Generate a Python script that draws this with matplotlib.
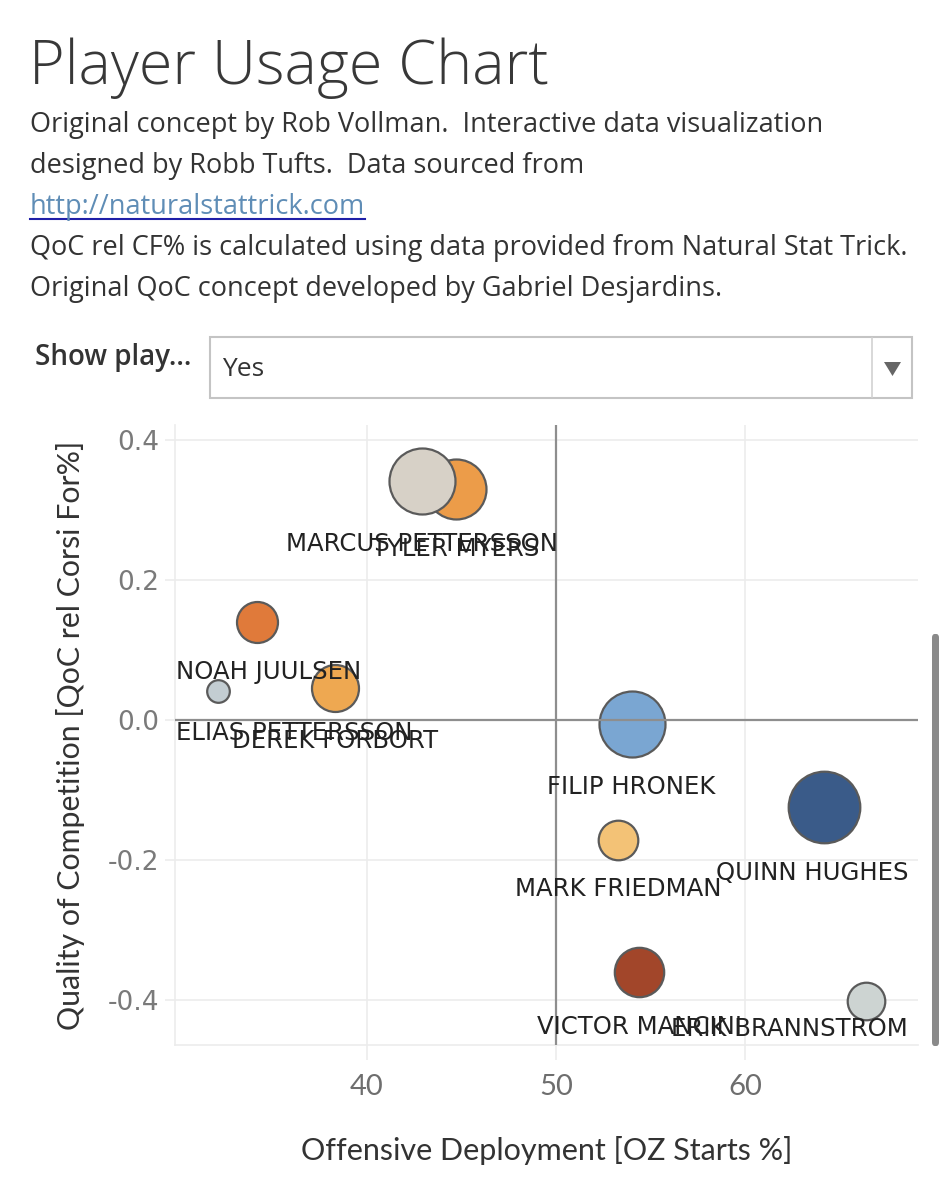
import matplotlib
matplotlib.use("Agg")
import matplotlib.pyplot as plt
from matplotlib.patches import Rectangle, FancyBboxPatch, Polygon
from matplotlib.lines import Line2D

# ---------------- data ----------------
players = ["MARCUS PETTERSSON", "TYLER MYERS", "NOAH JUULSEN", "ELIAS PETTERSSON",
           "DEREK FORBORT", "FILIP HRONEK", "MARK FRIEDMAN", "QUINN HUGHES",
           "VICTOR MANCINI", "ERIK BRANNSTROM"]
oz_starts = [42.9, 44.7, 34.2, 32.1, 38.3, 54.0, 53.3, 64.2, 54.4, 66.4]
qoc_rel_cf = [0.341, 0.330, 0.140, 0.041, 0.046, -0.006, -0.171, -0.124, -0.360, -0.401]
toi = [1089, 900, 420, 128, 552, 1089, 392, 1282, 610, 353]
colors = ["#d7d1c7", "#ec9c49", "#e07a3a", "#c3cdd2", "#eea851", "#7aa6d2",
          "#f3c276", "#3a5b89", "#a2462a", "#cdd4d2"]
draw_order = [1, 0, 2, 3, 4, 5, 6, 7, 8, 9]

x_ticks = [40, 50, 60]
x_tick_labels = ["40", "50", "60"]
y_ticks = [0.4, 0.2, 0.0, -0.2, -0.4]
y_tick_labels = ["0.4", "0.2", "0.0", "-0.2", "-0.4"]

title = "Player Usage Chart"
subtitle_lines = ["Original concept by Rob Vollman.  Interactive data visualization",
                  "designed by Robb Tufts.  Data sourced from"]
link_text = "http://naturalstattrick.com"
note_lines = ["QoC rel CF% is calculated using data provided from Natural Stat Trick.",
              "Original QoC concept developed by Gabriel Desjardins."]
filter_label = "Show play..."
filter_value = "Yes"
x_label = "Offensive Deployment [OZ Starts %]"
y_label = "Quality of Competition [QoC rel Corsi For%]"

# ---------------- figure ----------------
W, H = 947, 1200
fig = plt.figure(figsize=(W / 100, H / 100), dpi=100)
fig.patch.set_facecolor("white")

def fx(px):
    return px / W

def fy(py):
    return 1 - py / H

HEAD = ["Open Sans", "Lato", "DejaVu Sans"]
NARROW = ["Lato", "Open Sans", "DejaVu Sans"]
LAB = ["DejaVu Sans"]
TXT = "#333333"

fig.text(fx(29), fy(84), title, family=HEAD, weight="light", fontsize=44,
         color="#383838", va="baseline")
base_y = 132
for i, line in enumerate(subtitle_lines):
    fig.text(fx(30), fy(base_y + 41 * i), line, family=HEAD, fontsize=19.5,
             color=TXT, va="baseline")
link = fig.text(fx(30), fy(base_y + 41 * 2), link_text, family=HEAD, fontsize=19.5,
                color="#5f8db6", va="baseline")
for i, line in enumerate(note_lines):
    fig.text(fx(30), fy(base_y + 41 * (3 + i)), line, family=HEAD, fontsize=19.5,
             color=TXT, va="baseline")

# filter widget
fig.text(fx(35), fy(358), filter_label, family=HEAD, weight="semibold",
         fontsize=20, color=TXT, va="center")
fig.patches.append(Rectangle((fx(210), fy(398)), fx(702), 61 / H,
                             transform=fig.transFigure, fc="white", ec="#c4c4c4", lw=1.5))
fig.lines.append(Line2D([fx(872), fx(872)], [fy(338), fy(397)],
                        transform=fig.transFigure, color="#d2d2d2", lw=1.2))
fig.patches.append(Polygon([(fx(884), fy(362)), (fx(901), fy(362)), (fx(892.5), fy(376))],
                           closed=True, transform=fig.transFigure, fc="#666666", ec="none"))
fig.text(fx(222), fy(370), filter_value, family=HEAD, fontsize=19, color=TXT, va="center")

# scrollbar
fig.patches.append(FancyBboxPatch((fx(932), fy(1046)), fx(7), 412 / H,
                                  boxstyle="round,pad=0,rounding_size=0.003",
                                  transform=fig.transFigure, fc="#8a8a8a", ec="none"))

# ---------------- axes ----------------
ax = fig.add_axes([fx(175), fy(1045), fx(918 - 175), (1045 - 425) / H])
ax.set_xlim(29.84, 69.15)
ax.set_ylim(-0.4643, 0.4214)
ax.set_xticks(x_ticks)
ax.set_xticklabels(x_tick_labels)
ax.set_yticks(y_ticks)
ax.set_yticklabels(y_tick_labels)
ax.grid(True, color="#ececec", lw=1.2, zorder=0)
ax.set_axisbelow(True)
for s in ["top", "right"]:
    ax.spines[s].set_visible(False)
for s in ["left", "bottom"]:
    ax.spines[s].set_color("#ececec")
    ax.spines[s].set_linewidth(1.2)
ax.tick_params(axis="x", length=11, color="#ececec", width=1.2, pad=10,
               labelsize=21, labelcolor="#6e6e6e")
ax.tick_params(axis="y", length=7, color="#ececec", width=1.2, pad=4,
               labelsize=19, labelcolor="#7a7a7a")
for t in ax.get_xticklabels():
    t.set_family(NARROW)
for t in ax.get_yticklabels():
    t.set_family(LAB)

ax.set_xlabel(x_label, family=NARROW, fontsize=22, color=TXT, labelpad=26)
ax.set_ylabel(y_label, family=NARROW, fontsize=21.8, color=TXT, labelpad=17)

# reference lines
ax.axvline(50, color="#8e8e8e", lw=1.6, zorder=5)
ax.axhline(0, color="#8e8e8e", lw=1.6, zorder=5)

# bubbles
k = 2.0736  # px^2 -> pt^2 (diameter) at 100 dpi
for i in draw_order:
    ax.scatter([oz_starts[i]], [qoc_rel_cf[i]], s=k * toi[i], c=[colors[i]],
               edgecolors="#5a5a5a", linewidths=1.6, zorder=3 + 0.01 * draw_order.index(i))

# labels
anns = []
for i in range(len(players)):
    r_px = toi[i] ** 0.5
    a = ax.annotate(players[i], (oz_starts[i], qoc_rel_cf[i]), xytext=(0, -(r_px + 37)),
                    textcoords="offset pixels", ha="center", va="baseline",
                    family=LAB, fontsize=17.6, color="#222222", zorder=6)
    anns.append(a)

fig.canvas.draw()
r = fig.canvas.get_renderer()
axbb = ax.get_window_extent(r)
for a in anns:
    bb = a.get_window_extent(r)
    dx, dy = a.xyann
    if bb.x0 < axbb.x0 + 1:
        dx += axbb.x0 + 1 - bb.x0
    if bb.x1 > axbb.x1 - 10:
        dx -= bb.x1 - (axbb.x1 - 10)
    if bb.y0 < axbb.y0 + 4:
        dy += axbb.y0 + 4 - bb.y0
    a.xyann = (dx, dy)

# underline for link
lb = link.get_window_extent(r)
fig.lines.append(Line2D([lb.x0 / W, lb.x1 / W], [fy(base_y + 41 * 2 + 5)] * 2,
                        transform=fig.transFigure, color="#1f1fa8", lw=1.5))

fig.savefig("out.png", dpi=100)
